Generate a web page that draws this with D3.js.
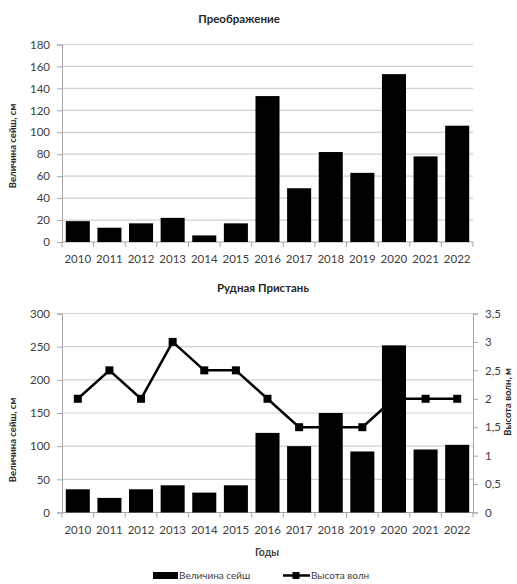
<!DOCTYPE html>
<html>
<head>
<meta charset="utf-8">
<script src="https://cdn.jsdelivr.net/npm/d3@7/dist/d3.min.js"></script>
<style>
  html, body { margin: 0; padding: 0; background: #fff; }
  svg { display: block; }
  text { font-family: Lato, "Open Sans", sans-serif; fill: #404040; }
</style>
</head>
<body>
<svg id="chart" width="517" height="584"></svg>
<script>
// Years shared by both panels
const years = ["2010","2011","2012","2013","2014","2015","2016","2017","2018","2019","2020","2021","2022"];

// Преображение: seiche magnitude, cm
const seichePreobr = [19, 13, 17, 22, 6, 17, 133, 49, 82, 63, 153, 78, 106];

// Рудная Пристань: seiche magnitude, cm, and wave height, m
const seicheRudnaya = [35, 22, 35, 41, 30, 41, 120, 100, 150, 92, 252, 95, 102];
const waveRudnaya = [2, 2.5, 2, 3, 2.5, 2.5, 2, 1.5, 1.5, 1.5, 2, 2, 2];

// Axis ticks
const ticksPreobr = [0, 20, 40, 60, 80, 100, 120, 140, 160, 180];
const ticksRudnaya = [0, 50, 100, 150, 200, 250, 300];
const ticksWave = [0, 0.5, 1, 1.5, 2, 2.5, 3, 3.5];

const titles = ["Преображение", "Рудная Пристань"];
const yTitle = "Величина сейш, см";
const y2Title = "Высота волн, м";
const xTitle = "Годы";
const legendLabels = ["Величина сейш", "Высота волн"];

const svg = d3.select("#chart");
const gridColor = "#d0d0d0";
const axisColor = "#a6a6a6";
const fmt = v => String(v).replace(".", ",");

const x = d3.scaleBand().domain(years).range([62, 473]).paddingInner(0.24).paddingOuter(0.12);

function drawPanel(cfg) {
  const g = svg.append("g");
  const y = d3.scaleLinear().domain([0, cfg.max]).range([cfg.bottom, cfg.top]);

  // horizontal gridlines
  g.selectAll(".grid").data(cfg.ticks.filter(t => t > 0)).join("line")
    .attr("x1", 62).attr("x2", 473)
    .attr("y1", d => y(d)).attr("y2", d => y(d))
    .attr("stroke", gridColor).attr("stroke-width", 1.2);

  // left axis
  const yAxis = d3.axisLeft(y).tickValues(cfg.ticks).tickSize(5).tickPadding(7).tickFormat(fmt);
  const ya = g.append("g").attr("transform", "translate(62,0)").call(yAxis);
  ya.select(".domain").attr("stroke", axisColor);
  ya.selectAll(".tick line").attr("stroke", axisColor);
  ya.selectAll("text").style("font-size", "11.5px").style("fill", "#404040");

  // x axis with tick marks at category boundaries
  g.append("line").attr("x1", 62).attr("x2", 473)
    .attr("y1", cfg.bottom).attr("y2", cfg.bottom).attr("stroke", axisColor);
  const bounds = years.map(d => x(d) - x.step() * x.paddingInner() / 2).concat([473]);
  g.selectAll(".xt").data(bounds).join("line")
    .attr("x1", d => d).attr("x2", d => d)
    .attr("y1", cfg.bottom).attr("y2", cfg.bottom + 5).attr("stroke", axisColor);
  g.selectAll(".xl").data(years).join("text")
    .attr("x", d => x(d) + x.bandwidth() / 2).attr("y", cfg.bottom + 21)
    .attr("text-anchor", "middle").style("font-size", "11.5px").text(d => d);

  // title
  g.append("text").attr("x", cfg.titleX).attr("y", cfg.top - 22)
    .attr("text-anchor", "middle").style("font-size", "11.5px").style("font-weight", "bold")
    .style("fill", "#262626").text(cfg.title);

  // y title
  g.append("text").attr("transform", `translate(16,${cfg.yTitleY}) rotate(-90)`)
    .attr("text-anchor", "middle").style("font-size", "9.5px").style("font-weight", "bold")
    .style("fill", "#262626").text(yTitle);

  return { g, y };
}

// Upper panel
const p1 = drawPanel({ top: 44.5, bottom: 242, max: 180, ticks: ticksPreobr, title: titles[0], titleX: 239, yTitleY: 146 });
p1.g.selectAll(".bar").data(years).join("rect")
  .attr("x", d => x(d)).attr("width", x.bandwidth())
  .attr("y", (d, i) => p1.y(seichePreobr[i]))
  .attr("height", (d, i) => p1.y(0) - p1.y(seichePreobr[i]))
  .attr("fill", "#000");

// Lower panel
const p2 = drawPanel({ top: 313.5, bottom: 512.5, max: 300, ticks: ticksRudnaya, title: titles[1], titleX: 263, yTitleY: 440 });
const y2 = d3.scaleLinear().domain([0, 3.5]).range([512.5, 313.5]);

// right axis
const ra = p2.g.append("g").attr("transform", "translate(473,0)")
  .call(d3.axisRight(y2).tickValues(ticksWave).tickSize(5).tickPadding(7).tickFormat(fmt));
ra.select(".domain").attr("stroke", axisColor);
ra.selectAll(".tick line").attr("stroke", axisColor);
ra.selectAll("text").style("font-size", "11.5px").style("fill", "#404040");

p2.g.append("text").attr("transform", "translate(511,402) rotate(-90)")
  .attr("text-anchor", "middle").style("font-size", "9.5px").style("font-weight", "bold")
  .style("fill", "#262626").text(y2Title);

// wave height line (drawn beneath the bars)
const cx = d => x(d) + x.bandwidth() / 2;
const line = d3.line().x((d, i) => cx(years[i])).y(d => y2(d));
p2.g.append("path").datum(waveRudnaya).attr("d", line)
  .attr("fill", "none").attr("stroke", "#000").attr("stroke-width", 2.5).attr("stroke-linejoin", "round");
p2.g.selectAll(".mk").data(waveRudnaya).join("rect")
  .attr("x", (d, i) => cx(years[i]) - 4).attr("y", d => y2(d) - 4)
  .attr("width", 8).attr("height", 8).attr("fill", "#000");

p2.g.selectAll(".bar").data(years).join("rect")
  .attr("x", d => x(d)).attr("width", x.bandwidth())
  .attr("y", (d, i) => p2.y(seicheRudnaya[i]))
  .attr("height", (d, i) => p2.y(0) - p2.y(seicheRudnaya[i]))
  .attr("fill", "#000");

// x title
svg.append("text").attr("x", 267).attr("y", 556).attr("text-anchor", "middle")
  .style("font-size", "10.5px").style("font-weight", "bold").style("fill", "#404040").text(xTitle);

// legend
const lg = svg.append("g");
lg.append("rect").attr("x", 153).attr("y", 572).attr("width", 25).attr("height", 7).attr("fill", "#000");
lg.append("text").attr("x", 179).attr("y", 579).style("font-size", "10px").text(legendLabels[0]);
lg.append("line").attr("x1", 283).attr("x2", 310).attr("y1", 575.5).attr("y2", 575.5)
  .attr("stroke", "#000").attr("stroke-width", 2.5);
lg.append("rect").attr("x", 292.5).attr("y", 572).attr("width", 7).attr("height", 7).attr("fill", "#000");
lg.append("text").attr("x", 311).attr("y", 579).style("font-size", "10px").text(legendLabels[1]);
</script>
</body>
</html>
